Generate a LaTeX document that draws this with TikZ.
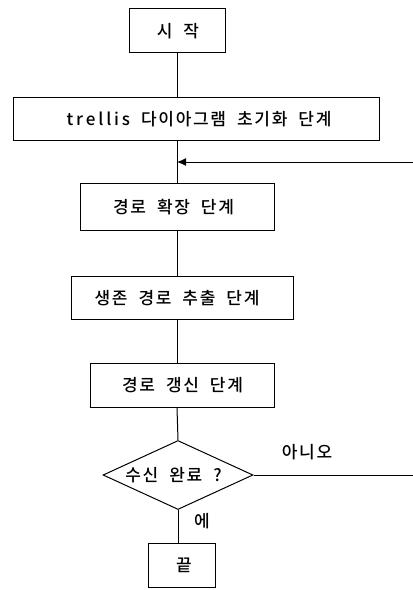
\documentclass[tikz,border=0pt]{standalone}
\usepackage{fontspec}
\newfontfamily\cjk[LetterSpace=10]{Noto Sans CJK KR Medium}
\usetikzlibrary{shapes.geometric,arrows.meta}
\newcommand\gap{\hspace{11pt}}
\tikzset{
  every node/.style={font=\cjk\fontsize{17}{19}\selectfont, inner sep=0pt},
  box/.style={draw, line width=1pt, rectangle},
  dia/.style={draw, line width=1pt, diamond, minimum width=150pt, minimum height=69pt, shape aspect=2.17},
  conn/.style={line width=1pt},
}
\begin{document}
\begin{tikzpicture}[x=1pt,y=-1pt]
\useasboundingbox[fill=white] (0,0) rectangle (413,590);
\node[box, minimum width=96pt, minimum height=44pt] (start) at (177,30) {};
\node (startt) at (178,31) {시\gap 작};
\node[box, minimum width=366pt, minimum height=43pt] (init) at (196,118.5) {};
\node (initt) at (199,119) {t\,r\,e\,l\,l\,i\,s\gap 다이아그램\gap 초기화\gap 단계};
\node[box, minimum width=194pt, minimum height=47pt] (ext) at (177,206.5) {};
\node (extt) at (173.5,207) {경로\gap 확장\gap 단계};
\node[box, minimum width=222pt, minimum height=43pt] (surv) at (182,297.5) {};
\node (survt) at (177,298) {생존\gap 경로\gap 추출\gap 단계};
\node[box, minimum width=184pt, minimum height=44pt] (upd) at (182,385) {};
\node (updt) at (182.5,385.5) {경로\gap 갱신\gap 단계};
\node[dia] (dec) at (178,475) {};
\node (dect) at (173.5,475) {수신\gap 완료\gap ?};
\node[box, minimum width=67pt, minimum height=44pt] (fin) at (181.5,565) {};
\node (fint) at (184,565) {끝};
\node (no) at (307,452) {아니오};
\node (yes) at (202,521) {에};
\coordinate (r1) at (413,162);
\coordinate (r2) at (413,475);
\draw[conn] (start.south) -- (start.south |- init.north);
\draw[conn] (start.south |- init.south) -- (start.south |- ext.north);
\draw[conn] (ext.south) -- (ext.south |- surv.north);
\draw[conn] (ext.south |- surv.south) -- (ext.south |- upd.north);
\draw[conn] (ext.south |- upd.south) -- (dec.north);
\draw[conn] (dec.south) -- (dec.south |- fin.north);
\draw[conn] (dec.east) -- (r2);
\draw[conn, -{Latex[length=9pt,width=8pt]}] (r1) -- (r1 -| start.south);
\end{tikzpicture}
\end{document}
